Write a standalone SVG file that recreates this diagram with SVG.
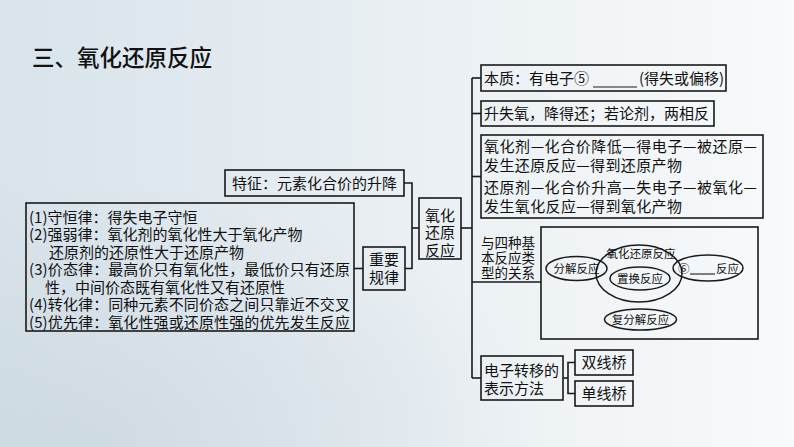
<svg xmlns="http://www.w3.org/2000/svg" width="794" height="447" viewBox="0 0 794 447">
<style>
text{font-family:"Noto Sans CJK SC","Noto Sans",sans-serif;fill:#111;}
.t15{font-size:15px;}
.t14{font-size:13.5px;}
.t12{font-size:11.5px;}
.c{text-anchor:middle;}
.box{fill:none;stroke:#1a1a1a;stroke-width:1.6;}
.ell{fill:none;stroke:#1a1a1a;stroke-width:1.5;}
.ln{fill:none;stroke:#1a1a1a;stroke-width:1.6;}
</style>
<defs>
<linearGradient id="bg" x1="0" y1="0" x2="1" y2="0">
<stop offset="0" stop-color="#d8e3eb"/>
<stop offset="0.5" stop-color="#e9eff3"/>
<stop offset="1" stop-color="#f8fafb"/>
</linearGradient>
<radialGradient id="sw" cx="0.1" cy="1" r="0.6">
<stop offset="0" stop-color="#c9d5de" stop-opacity="0.7"/>
<stop offset="1" stop-color="#c9d5de" stop-opacity="0"/>
</radialGradient>
</defs>
<rect x="0" y="0" width="794" height="447" fill="url(#bg)"/>
<rect x="0" y="0" width="794" height="447" fill="url(#sw)"/>

<text x="32" y="65.5" style="font-size:22.5px;font-weight:500">三、氧化还原反应</text>

<g id="connectors">
<polyline class="ln" points="404,183 412,183 412,268.5 405,268.5"/>
<line class="ln" x1="354" y1="268.5" x2="363" y2="268.5"/>
<line class="ln" x1="412" y1="228" x2="419" y2="228"/>
<line class="ln" x1="461" y1="228" x2="472" y2="228"/>
<line class="ln" x1="472" y1="78" x2="472" y2="378"/>
<line class="ln" x1="472" y1="78" x2="481" y2="78"/>
<line class="ln" x1="472" y1="113.5" x2="481" y2="113.5"/>
<line class="ln" x1="472" y1="176.5" x2="481" y2="176.5"/>
<line class="ln" x1="472" y1="282" x2="541" y2="282"/>
<line class="ln" x1="472" y1="378" x2="481" y2="378"/>
<polyline class="ln" points="575,362.5 568,362.5 568,393.5 575,393.5"/>
<line class="ln" x1="563" y1="378" x2="568" y2="378"/>
</g>

<g id="feature">
<rect class="box" x="225" y="170" width="179" height="26"/>
<text class="t15" x="232" y="188.7">特征：元素化合价的升降</text>
</g>

<g id="laws">
<rect class="box" x="26" y="203" width="328" height="128"/>
<text class="t15" x="29" y="222.7">(1)守恒律：得失电子守恒</text>
<text class="t15" x="29" y="240.2">(2)强弱律：氧化剂的氧化性大于氧化产物</text>
<text class="t15" x="49" y="257.7">还原剂的还原性大于还原产物</text>
<text class="t15" x="29" y="275.2" textLength="321" lengthAdjust="spacing">(3)价态律：最高价只有氧化性，最低价只有还原</text>
<text class="t15" x="45" y="292.7">性，中间价态既有氧化性又有还原性</text>
<text class="t15" x="29" y="310.2" textLength="321" lengthAdjust="spacing">(4)转化律：同种元素不同价态之间只靠近不交叉</text>
<text class="t15" x="29" y="327.7" textLength="321" lengthAdjust="spacing">(5)优先律：氧化性强或还原性强的优先发生反应</text>
</g>

<g id="important">
<rect class="box" x="363" y="247" width="42" height="43"/>
<text class="t15 c" x="384" y="264.7">重要</text>
<text class="t15 c" x="384" y="282.7">规律</text>
</g>

<g id="redox">
<rect class="box" x="419" y="198" width="42" height="61"/>
<text class="t15 c" x="440" y="220.7">氧化</text>
<text class="t15 c" x="440" y="238.2">还原</text>
<text class="t15 c" x="440" y="255.7">反应</text>
</g>

<g id="essence">
<rect class="box" x="481" y="65" width="245" height="26"/>
<text class="t15" x="484" y="83.7">本质：有电子⑤</text>
<line x1="593" y1="87" x2="637" y2="87" stroke="#1a1a1a" stroke-width="1.2"/>
<text class="t15" x="639" y="83.7">(得失或偏移)</text>
</g>

<g id="mnemonic">
<rect class="box" x="481" y="101" width="233" height="25"/>
<text class="t15" x="484" y="118.7">升失氧，降得还；若论剂，两相反</text>
</g>

<g id="agents">
<rect class="box" x="481" y="135" width="282" height="83"/>
<text class="t15" x="484" y="151.7" textLength="273" lengthAdjust="spacing">氧化剂—化合价降低—得电子—被还原—</text>
<text class="t15" x="484" y="170.7" textLength="198" lengthAdjust="spacing">发生还原反应—得到还原产物</text>
<text class="t15" x="484" y="192.7" textLength="273" lengthAdjust="spacing">还原剂—化合价升高—失电子—被氧化—</text>
<text class="t15" x="484" y="211.7" textLength="198" lengthAdjust="spacing">发生氧化反应—得到氧化产物</text>
</g>

<g id="relation">
<text class="t14" x="481" y="248.3">与四种基</text>
<text class="t14" x="481" y="263.3">本反应类</text>
<text class="t14" x="481" y="278.3">型的关系</text>
<rect class="box" x="541" y="227" width="217" height="112"/>
<ellipse class="ell" cx="639" cy="273.5" rx="43" ry="28.5"/>
<ellipse class="ell" cx="576.5" cy="268.5" rx="30.5" ry="12"/>
<ellipse class="ell" cx="640" cy="278.5" rx="30" ry="11.5"/>
<ellipse class="ell" cx="708" cy="268" rx="35" ry="13"/>
<ellipse class="ell" cx="640.5" cy="319.5" rx="36" ry="10.5"/>
<text class="t12 c" x="576.5" y="272.6">分解反应</text>
<text class="t12 c" x="641" y="257.8">氧化还原反应</text>
<text class="t12 c" x="640" y="283.4">置换反应</text>
<text class="t12" x="678" y="272.6">⑥</text>
<line x1="690" y1="274" x2="715" y2="274" stroke="#1a1a1a" stroke-width="1.1"/>
<text class="t12" x="716" y="272.6">反应</text>
<text class="t12 c" x="640.5" y="323.8">复分解反应</text>
</g>

<g id="transfer">
<rect class="box" x="481" y="356" width="82" height="44"/>
<text class="t15" x="484" y="376.2">电子转移的</text>
<text class="t15" x="484" y="394">表示方法</text>
</g>

<g id="double">
<rect class="box" x="575" y="350" width="58" height="25"/>
<text class="t15 c" x="604" y="367.7">双线桥</text>
</g>

<g id="single">
<rect class="box" x="575" y="381" width="58" height="25"/>
<text class="t15 c" x="604" y="398.7">单线桥</text>
</g>
</svg>
